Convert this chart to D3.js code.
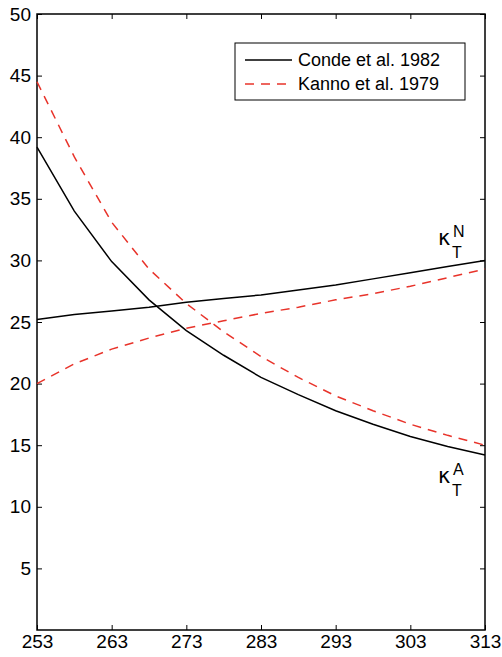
<!DOCTYPE html>
<html>
<head>
<meta charset="utf-8">
<script src="https://cdn.jsdelivr.net/npm/d3@7"></script>
<style>
  body { margin: 0; background: #fff; }
  text { font-family: "Liberation Sans", Arial, sans-serif; fill: #000; }
</style>
</head>
<body>
<script>
const temps = [253, 258, 263, 268, 273, 278, 283, 288, 293, 298, 303, 308, 313];
const condeA = [39.2, 34.0, 29.9, 26.8, 24.3, 22.3, 20.5, 19.1, 17.8, 16.7, 15.7, 14.9, 14.2];
const condeN = [25.2, 25.6, 25.9, 26.2, 26.6, 26.9, 27.2, 27.6, 28.0, 28.5, 29.0, 29.5, 30.0];
const kannoA = [44.5, 38.4, 33.1, 29.3, 26.5, 24.2, 22.2, 20.5, 19.0, 17.8, 16.7, 15.8, 15.0];
const kannoN = [20.0, 21.6, 22.8, 23.7, 24.5, 25.1, 25.7, 26.2, 26.8, 27.3, 27.9, 28.6, 29.3];
const xTicks = [253, 263, 273, 283, 293, 303, 313];
const yTicks = [5, 10, 15, 20, 25, 30, 35, 40, 45, 50];

const margin = { top: 14, right: 17, bottom: 27, left: 37 };
const width = 502 - margin.left - margin.right;
const height = 657 - margin.top - margin.bottom;

const x = d3.scaleLinear().domain([253, 313]).range([0, width]);
const y = d3.scaleLinear().domain([0, 50]).range([height, 0]);

const svg = d3.select('body').append('svg')
  .attr('width', 502)
  .attr('height', 657)
  .append('g')
  .attr('transform', `translate(${margin.left}, ${margin.top})`);

const styleAxis = (g) => {
  g.select('.domain').remove();
  g.selectAll('.tick line').attr('stroke', '#000').attr('stroke-width', 1);
  g.selectAll('.tick text').style('font-size', '19px');
};

svg.append('g')
  .attr('transform', `translate(0, ${height})`)
  .call(d3.axisBottom(x).tickValues(xTicks).tickSize(-5).tickPadding(5))
  .call(styleAxis);

svg.append('g')
  .call(d3.axisTop(x).tickValues(xTicks).tickSize(-5).tickFormat(''))
  .call(styleAxis);

svg.append('g')
  .call(d3.axisLeft(y).tickValues(yTicks).tickSize(-5).tickPadding(6))
  .call(styleAxis);

svg.append('g')
  .attr('transform', `translate(${width}, 0)`)
  .call(d3.axisRight(y).tickValues(yTicks).tickSize(-5).tickFormat(''))
  .call(styleAxis);

svg.append('rect')
  .attr('width', width)
  .attr('height', height)
  .attr('fill', 'none')
  .attr('stroke', '#000')
  .attr('stroke-width', 1.5);

const line = d3.line()
  .x((d, i) => x(temps[i]))
  .y(d => y(d));

const series = [
  { values: condeA, color: '#000', dash: null },
  { values: condeN, color: '#000', dash: null },
  { values: kannoA, color: '#e8332a', dash: '9,7' },
  { values: kannoN, color: '#e8332a', dash: '9,7' },
];

svg.selectAll('path.series')
  .data(series)
  .enter().append('path')
  .attr('class', 'series')
  .attr('d', d => line(d.values))
  .attr('fill', 'none')
  .attr('stroke', d => d.color)
  .attr('stroke-width', 1.5)
  .attr('stroke-dasharray', d => d.dash);

// legend
const legend = svg.append('g')
  .attr('transform', 'translate(198, 29)');

legend.append('rect')
  .attr('width', 230)
  .attr('height', 57)
  .attr('fill', '#fff')
  .attr('stroke', '#000')
  .attr('stroke-width', 1);

const legendItems = [
  { label: 'Conde et al. 1982', color: '#000', dash: null },
  { label: 'Kanno et al. 1979', color: '#e8332a', dash: '9,7' },
];

legendItems.forEach((d, i) => {
  const row = legend.append('g').attr('transform', `translate(0, ${17 + i * 24})`);
  row.append('line')
    .attr('x1', 10)
    .attr('x2', 57)
    .attr('stroke', d.color)
    .attr('stroke-width', 1.5)
    .attr('stroke-dasharray', d.dash);
  row.append('text')
    .attr('x', 63)
    .attr('dy', '0.35em')
    .style('font-size', '18px')
    .text(d.label);
});

// kappa labels
const kappa = (xp, yp, sup) => {
  const g = svg.append('g').attr('transform', `translate(${xp}, ${yp})`);
  g.append('text').style('font-size', '21px').style('font-family', 'DejaVu Sans').text('κ');
  g.append('text').attr('x', 15).attr('y', -8).style('font-size', '16px').text(sup);
  g.append('text').attr('x', 14).attr('y', 13).style('font-size', '16px').text('T');
};

kappa(401, 231, 'N');
kappa(401, 469, 'A');
</script>
</body>
</html>
